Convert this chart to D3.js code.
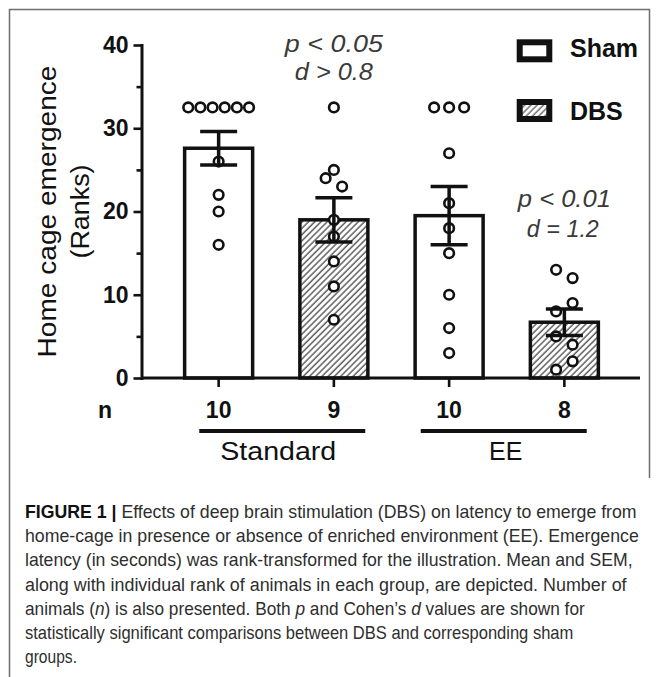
<!DOCTYPE html>
<html>
<head>
<meta charset="utf-8">
<script src="https://cdn.jsdelivr.net/npm/d3@7"></script>
<style>
  html, body { margin: 0; padding: 0; background: #fff; }
  svg { display: block; }
  text { font-family: "Liberation Sans", Arial, Helvetica, sans-serif; }
</style>
</head>
<body>
<svg id="chart" width="657" height="677"></svg>
<script>
// ---------------- data ----------------
const groups = ["Standard Sham", "Standard DBS", "EE Sham", "EE DBS"];
const treatment = ["Sham", "DBS", "Sham", "DBS"];
const nLabels = ["10", "9", "10", "8"];
const meanRank = [27.6, 19.0, 19.5, 6.7];
const semRank = [2.0, 2.65, 3.5, 1.6];
const ranksStandardSham = [32.5, 32.5, 32.5, 32.5, 32.5, 32.5, 26, 22, 20, 16];
const ranksStandardDBS = [32.5, 25, 24, 23, 19, 17, 14, 11, 7];
const ranksEESham = [32.5, 32.5, 32.5, 27, 21, 18, 15, 10, 6, 3];
const ranksEEDBS = [13, 12, 9, 8, 5, 4, 2, 1];
const individualRanks = [ranksStandardSham, ranksStandardDBS, ranksEESham, ranksEEDBS];
const environments = ["Standard", "EE"];
const environmentGroups = [["Standard Sham", "Standard DBS"], ["EE Sham", "EE DBS"]];
const yTicks = [0, 10, 20, 30, 40];
const yMinorTicks = [5, 15, 25, 35];
const statsText = [
  { group: "Standard DBS", lines: ["p < 0.05", "d > 0.8"] },
  { group: "EE DBS", lines: ["p < 0.01", "d = 1.2"] }
];
const legendItems = ["Sham", "DBS"];
const captionLines = [
  [["FIGURE 1 | ", "b"], ["Effects of deep brain stimulation (DBS) on latency to emerge from", ""]],
  [["home-cage in presence or absence of enriched environment (EE). Emergence", ""]],
  [["latency (in seconds) was rank-transformed for the illustration. Mean and SEM,", ""]],
  [["along with individual rank of animals in each group, are depicted. Number of", ""]],
  [["animals (", ""], ["n", "i"], [") is also presented. Both ", ""], ["p", "i"], [" and Cohen\u2019s ", ""], ["d", "i"], [" values are shown for", ""]],
  [["statistically significant comparisons between DBS and corresponding sham", ""]],
  [["groups.", ""]]
];
const captionWidths = [612, 614, 608, 602, 560, 549, 52];

// ---------------- setup ----------------
const svg = d3.select("#chart");
const ink = "#111";

const defs = svg.append("defs");
function hatch(id, color, w) {
  const p = defs.append("pattern").attr("id", id)
    .attr("patternUnits", "userSpaceOnUse")
    .attr("width", 4.4).attr("height", 4.4)
    .attr("patternTransform", "rotate(45)");
  p.append("rect").attr("width", 4.4).attr("height", 4.4).attr("fill", "#fff");
  p.append("line").attr("x1", 1).attr("y1", 0).attr("x2", 1).attr("y2", 4.4)
    .attr("stroke", color).attr("stroke-width", w);
}
hatch("hatch", "#555", 1.4);
hatch("hatchLegend", "#777", 1.5);

// frame
const frame = svg.append("g").attr("stroke", "#6e6e6e").attr("stroke-width", 1.5).attr("fill", "none");
frame.append("path").attr("d", "M9.5,677 V9.5 H649.5 V478");

// scales
const x = d3.scaleBand().domain(groups).range([142, 641]).paddingInner(0.41).paddingOuter(0.37);
const y = d3.scaleLinear().domain([0, 40]).range([378, 45]);
const bw = x.bandwidth();
const cx = g => x(g) + bw / 2;

const chart = svg.append("g");

// y axis (minor ticks)
chart.append("g").attr("transform", "translate(141.5,0)")
  .call(d3.axisLeft(y).tickValues(yMinorTicks).tickSize(5).tickSizeOuter(0).tickFormat(""))
  .call(g => g.select(".domain").remove())
  .call(g => g.selectAll("line").attr("stroke", ink).attr("stroke-width", 2.6));

// y axis (major)
chart.append("g").attr("transform", "translate(141.5,0)")
  .call(d3.axisLeft(y).tickValues(yTicks).tickSize(8).tickSizeOuter(0).tickPadding(5))
  .call(g => g.select(".domain").attr("stroke", ink).attr("stroke-width", 3).attr("stroke-linecap", "square"))
  .call(g => g.selectAll("line").attr("stroke", ink).attr("stroke-width", 2.6))
  .call(g => g.selectAll("text").attr("fill", ink).attr("font-size", 23).attr("font-weight", "bold")
    .attr("font-family", "'Liberation Sans', Arial, sans-serif"));

// y axis title
const yTitle = chart.append("g").attr("transform", "translate(0,211.5) rotate(-90)")
  .attr("fill", ink).attr("font-size", 26.5).attr("text-anchor", "middle");
yTitle.append("text").attr("x", 0).attr("y", 56).attr("textLength", 292).attr("lengthAdjust", "spacingAndGlyphs")
  .text("Home cage emergence");
yTitle.append("text").attr("x", 0).attr("y", 89).attr("textLength", 94).attr("lengthAdjust", "spacingAndGlyphs")
  .text("(Ranks)");

// bars
chart.append("g").selectAll("rect").data(groups).join("rect")
  .attr("x", g => x(g)).attr("width", bw)
  .attr("y", (g, i) => y(meanRank[i]))
  .attr("height", (g, i) => y(0) - y(meanRank[i]))
  .attr("fill", (g, i) => treatment[i] === "DBS" ? "url(#hatch)" : "#fff")
  .attr("stroke", ink).attr("stroke-width", 3.5);

// x axis
chart.append("g").attr("transform", "translate(0,378)")
  .call(d3.axisBottom(x).tickSize(9).tickSizeOuter(0).tickPadding(14.5).tickFormat((d, i) => nLabels[i]))
  .call(g => g.select(".domain").attr("stroke", ink).attr("stroke-width", 3)
    .attr("d", "M141,0H640"))
  .call(g => g.selectAll("line").attr("stroke", ink).attr("stroke-width", 2.6))
  .call(g => g.selectAll("text").attr("fill", ink).attr("font-size", 23).attr("font-weight", "bold")
    .attr("font-family", "'Liberation Sans', Arial, sans-serif"));

chart.append("text").attr("x", 105).attr("y", 418).attr("text-anchor", "middle")
  .attr("font-size", 23).attr("font-weight", "bold").attr("fill", ink).text("n");

// individual dots with a simple binned layout
function layoutDots(values) {
  const sorted = values.slice().sort((a, b) => a - b);
  const bins = [];
  sorted.forEach(v => {
    const last = bins[bins.length - 1];
    if (last && v - last[0] <= 1.4) last.push(v); else bins.push([v]);
  });
  const out = [];
  bins.forEach((bin, bi) => {
    const k = bin.length;
    const ordered = bi % 2 === 0 ? bin : bin.slice().reverse();
    const sp = Math.min(12 + 9 / k, (bw + 5) / k);
    ordered.forEach((v, j) => out.push({ v, dx: (j - (k - 1) / 2) * sp }));
  });
  return out;
}
const dotsG = chart.append("g");
groups.forEach((g, i) => {
  dotsG.append("g").selectAll("circle").data(layoutDots(individualRanks[i])).join("circle")
    .attr("cx", d => cx(g) + d.dx).attr("cy", d => y(d.v)).attr("r", 4.8)
    .attr("fill", "#fff").attr("stroke", ink).attr("stroke-width", 2.6);
});

// error bars (mean ± SEM)
const eb = chart.append("g").attr("stroke", ink).attr("stroke-width", 3.5);
groups.forEach((g, i) => {
  const hi = y(meanRank[i] + semRank[i]), lo = y(meanRank[i] - semRank[i]), c = cx(g);
  eb.append("line").attr("x1", c).attr("x2", c).attr("y1", hi).attr("y2", lo);
  eb.append("line").attr("x1", c - 18.5).attr("x2", c + 18.5).attr("y1", hi).attr("y2", hi);
  eb.append("line").attr("x1", c - 18.5).attr("x2", c + 18.5).attr("y1", lo).attr("y2", lo);
});

// environment group lines and labels
environments.forEach((env, i) => {
  const gs = environmentGroups[i];
  const mid = (cx(gs[0]) + cx(gs[1])) / 2;
  const shift = i === 0 ? 6 : -3;
  chart.append("line").attr("x1", mid + shift - 83).attr("x2", mid + shift + 83)
    .attr("y1", 431).attr("y2", 431).attr("stroke", ink).attr("stroke-width", 4);
  const t = chart.append("text").attr("x", mid + (i === 0 ? 2 : -1)).attr("y", 460).attr("text-anchor", "middle")
    .attr("font-size", 25).attr("fill", ink).text(env);
  if (env === "Standard") t.attr("textLength", 116).attr("lengthAdjust", "spacingAndGlyphs");
});

// statistics annotations
const statLens = [[98, 78], [93, 72]];
const statBase = [[51.5, 80], [207, 236.5]];
statsText.forEach((s, i) => {
  s.lines.forEach((ln, j) => {
    chart.append("text").attr("x", cx(s.group) + (i === 1 && j === 1 ? -1.5 : 0))
      .attr("y", statBase[i][j]).attr("text-anchor", "middle")
      .attr("font-size", 23.5).attr("font-style", "italic").attr("fill", "#3a3a3a")
      .attr("textLength", statLens[i][j]).attr("lengthAdjust", "spacingAndGlyphs").text(ln);
  });
});

// legend
const legend = chart.append("g");
legendItems.forEach((item, i) => {
  const top = i === 0 ? 42.3 : 102;
  legend.append("rect").attr("x", 519.7).attr("y", top).attr("width", 29.6).attr("height", 17)
    .attr("fill", item === "DBS" ? "url(#hatchLegend)" : "#fff")
    .attr("stroke", ink).attr("stroke-width", 6);
  legend.append("text").attr("x", 570).attr("y", i === 0 ? 57 : 119.5)
    .attr("font-size", 25).attr("font-weight", "bold")
    .attr("fill", ink).text(item);
});

// caption (each line horizontally scaled to the reference line width)
const cap = svg.append("g").attr("font-size", 18).attr("fill", "#2e2e2e");
captionLines.forEach((parts, i) => {
  const t = cap.append("text").attr("x", 0).attr("y", 0);
  parts.forEach(([txt, st]) => {
    const ts = t.append("tspan").text(txt);
    if (st === "b") ts.attr("font-weight", "bold").attr("fill", "#111");
    if (st === "i") ts.attr("font-style", "italic");
  });
  const w = t.node().getComputedTextLength();
  const s = w > 0 ? captionWidths[i] / w : 1;
  t.attr("transform", `translate(25,${518 + i * 24.2}) scale(${s},1)`);
});
</script>
</body>
</html>
